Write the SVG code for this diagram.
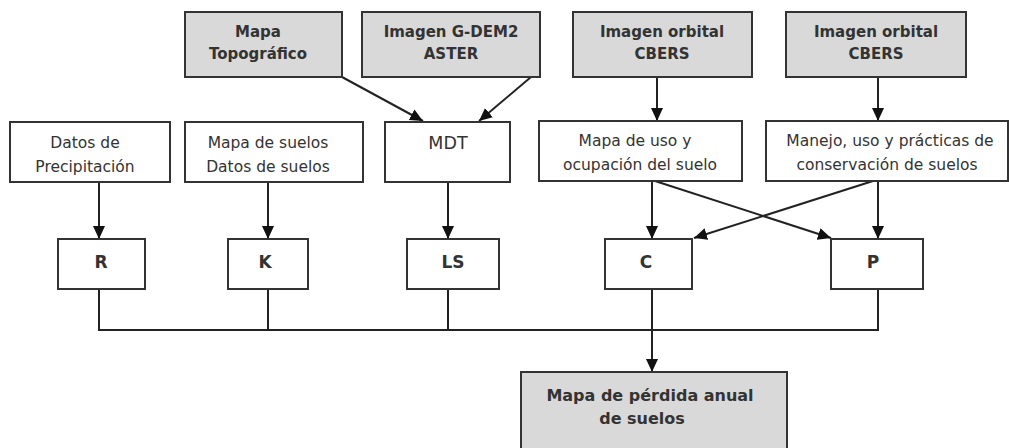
<svg xmlns="http://www.w3.org/2000/svg" width="1009" height="448" viewBox="0 0 1009 448">
<defs>
<style>
.g{fill:#d9d9d9;stroke:#333;stroke-width:2}
.w{fill:#fff;stroke:#333;stroke-width:2}
.t{font-family:"DejaVu Sans","Open Sans",sans-serif;font-size:15.5px;fill:#333;text-anchor:middle}
.b{font-weight:bold;font-size:15px}
.l{font-weight:bold;font-size:17px}
.f{font-weight:bold;font-size:16px}
.m{font-size:17.5px}
.c{fill:none;stroke:#222;stroke-width:2}
</style>
<marker id="ah" markerUnits="userSpaceOnUse" markerWidth="14" markerHeight="14" viewBox="0 0 14 14" refX="13" refY="7" orient="auto">
<path d="M0,1 L13,7 L0,13 Z" fill="#111"/>
</marker>
</defs>
<rect width="1009" height="448" fill="#fff"/>
<g id="connectors">
<line class="c" x1="342" y1="77" x2="423" y2="121" marker-end="url(#ah)"/>
<line class="c" x1="531" y1="77" x2="479" y2="121" marker-end="url(#ah)"/>
<line class="c" x1="657" y1="77" x2="657" y2="121" marker-end="url(#ah)"/>
<line class="c" x1="878" y1="77" x2="878" y2="121" marker-end="url(#ah)"/>
<line class="c" x1="99" y1="182" x2="99" y2="239" marker-end="url(#ah)"/>
<line class="c" x1="268" y1="182" x2="268" y2="239" marker-end="url(#ah)"/>
<line class="c" x1="448" y1="182" x2="448" y2="239" marker-end="url(#ah)"/>
<line class="c" x1="652" y1="181" x2="652" y2="239" marker-end="url(#ah)"/>
<line class="c" x1="878" y1="181" x2="878" y2="239" marker-end="url(#ah)"/>
<line class="c" x1="655" y1="181" x2="831" y2="238" marker-end="url(#ah)"/>
<line class="c" x1="873" y1="181" x2="694" y2="238" marker-end="url(#ah)"/>
<polyline class="c" points="99,289 99,330 878,330 878,289"/>
<line class="c" x1="268" y1="289" x2="268" y2="330"/>
<line class="c" x1="448" y1="289" x2="448" y2="330"/>
<line class="c" x1="652" y1="289" x2="652" y2="330"/>
<line class="c" x1="652" y1="330" x2="652" y2="372" marker-end="url(#ah)"/>
</g>
<g id="n_topo"><rect class="g" x="185" y="12" width="157" height="65"/><text class="t b" x="258" y="37">Mapa</text><text class="t b" x="258" y="59">Topográfico</text></g>
<g id="n_gdem"><rect class="g" x="362" y="12" width="178" height="65"/><text class="t b" x="451" y="37">Imagen G-DEM2</text><text class="t b" x="451" y="59">ASTER</text></g>
<g id="n_cbers1"><rect class="g" x="573" y="12" width="179" height="65"/><text class="t b" x="662" y="37">Imagen orbital</text><text class="t b" x="662" y="59">CBERS</text></g>
<g id="n_cbers2"><rect class="g" x="786" y="12" width="180" height="65"/><text class="t b" x="876" y="37">Imagen orbital</text><text class="t b" x="876" y="59">CBERS</text></g>
<g id="n_prec"><rect class="w" x="10" y="122" width="160" height="60"/><text class="t" x="85" y="148">Datos de</text><text class="t" x="85" y="172">Precipitación</text></g>
<g id="n_suelos"><rect class="w" x="185" y="122" width="178" height="60"/><text class="t" x="268" y="148">Mapa de suelos</text><text class="t" x="268" y="172">Datos de suelos</text></g>
<g id="n_mdt"><rect class="w" x="385" y="122" width="125" height="60"/><text class="t m" x="448" y="149">MDT</text></g>
<g id="n_uso"><rect class="w" x="539" y="121" width="203" height="60"/><text class="t" x="635" y="146">Mapa de uso y</text><text class="t" x="640" y="170">ocupación del suelo</text></g>
<g id="n_manejo"><rect class="w" x="766" y="121" width="242" height="60"/><text class="t" x="890" y="146">Manejo, uso y prácticas de</text><text class="t" x="887" y="170">conservación de suelos</text></g>
<g id="n_R"><rect class="w" x="58" y="239" width="87" height="50"/><text class="t l" x="101" y="268">R</text></g>
<g id="n_K"><rect class="w" x="228" y="239" width="80" height="50"/><text class="t l" x="265" y="268">K</text></g>
<g id="n_LS"><rect class="w" x="407" y="239" width="92" height="50"/><text class="t l" x="453" y="268">LS</text></g>
<g id="n_C"><rect class="w" x="605" y="239" width="87" height="50"/><text class="t l" x="646" y="268">C</text></g>
<g id="n_P"><rect class="w" x="831" y="239" width="92" height="50"/><text class="t l" x="873" y="268">P</text></g>
<g id="n_final"><rect class="g" x="521" y="372" width="266" height="80"/><text class="t f" x="650" y="401">Mapa de pérdida anual</text><text class="t f" x="642" y="424">de suelos</text></g>
</svg>
